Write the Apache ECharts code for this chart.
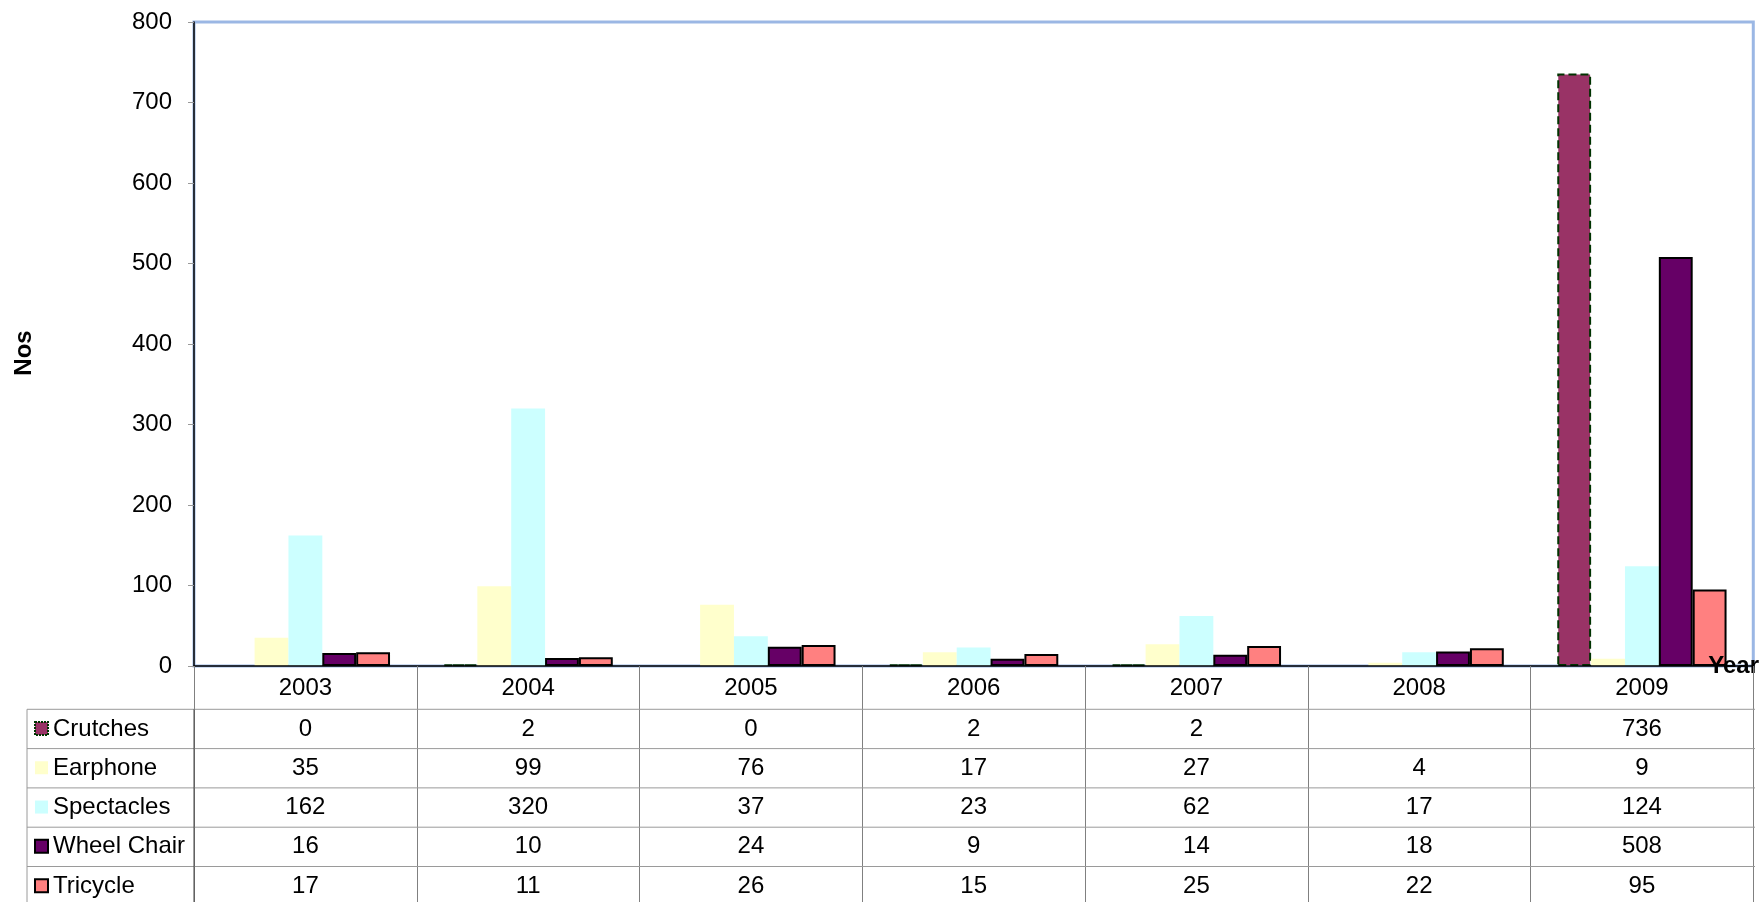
<!DOCTYPE html>
<html>
<head>
<meta charset="utf-8">
<title>Assistive devices distributed per year</title>
<script src="https://cdn.jsdelivr.net/npm/echarts@6/dist/echarts.min.js"></script>
<style>
  html, body { margin: 0; padding: 0; background: #fff; }
  #chart { width: 1762px; height: 902px; }
</style>
</head>
<body>
<div id="chart"></div>
<script>
// ---- data ----
const categories = ['2003', '2004', '2005', '2006', '2007', '2008', '2009'];
const seriesNames = ['Crutches', 'Earphone', 'Spectacles', 'Wheel Chair', 'Tricycle'];
const crutches   = [0, 2, 0, 2, 2, null, 736];
const earphone   = [35, 99, 76, 17, 27, 4, 9];
const spectacles = [162, 320, 37, 23, 62, 17, 124];
const wheelChair = [16, 10, 24, 9, 14, 18, 508];
const tricycle   = [17, 11, 26, 15, 25, 22, 95];
const seriesValues = [crutches, earphone, spectacles, wheelChair, tricycle];

// ---- styling ----
const FONT = "'Liberation Sans', Arial, sans-serif";
const fills   = ['#993366', '#FFFFCC', '#CCFFFF', '#660066', '#FF8080'];
const borders = [
  { borderColor: '#003300', borderWidth: 2, borderType: 'dashed' },
  { borderWidth: 0 },
  { borderWidth: 0 },
  { borderColor: '#000000', borderWidth: 2 },
  { borderColor: '#000000', borderWidth: 2 }
];

// ---- layout ----
const W = 1762, H = 902;
const PLOT_LEFT = 194, PLOT_TOP = 22, PLOT_RIGHT = 1755, AXIS_Y = 666;
const TABLE_LEFT = 27, ROW_H = 39.3, FIRST_ROW_TOP = 709.3;
const rowTop = i => FIRST_ROW_TOP + i * ROW_H;
const rowMid = i => rowTop(i) + ROW_H / 2;

const chart = echarts.init(document.getElementById('chart'), null, { renderer: 'canvas' });

// value rows of the data table, one category axis per series
const tableAxes = seriesValues.map((vals, i) => ({
  type: 'category',
  gridIndex: 0,
  position: 'bottom',
  offset: rowMid(i) - AXIS_Y,
  data: categories,
  axisLine: { show: false },
  axisTick: { show: false },
  splitLine: { show: false },
  axisLabel: {
    interval: 0,
    margin: 0,
    verticalAlign: 'middle',
    fontFamily: FONT,
    fontSize: 24,
    color: '#000',
    formatter: (v, idx) => (vals[idx] == null ? '' : String(vals[idx]))
  }
}));

// row headers with legend keys, plus the table rules
const graphics = [];
seriesNames.forEach((name, i) => {
  graphics.push({
    type: 'rect',
    shape: { x: 35, y: rowMid(i) - 7, width: 13, height: 13 },
    style: {
      fill: fills[i],
      stroke: borders[i].borderWidth ? borders[i].borderColor : null,
      lineWidth: borders[i].borderWidth ? 2 : 0,
      lineDash: borders[i].borderType === 'dashed' ? [2, 1] : null
    },
    z: 10
  });
  graphics.push({
    type: 'text',
    x: 53,
    y: rowMid(i),
    style: { text: name, font: '24px ' + FONT, fill: '#000', textVerticalAlign: 'middle' },
    z: 10
  });
  graphics.push({
    type: 'line',
    shape: { x1: TABLE_LEFT, y1: rowTop(i), x2: PLOT_RIGHT, y2: rowTop(i) },
    style: { stroke: '#9a9a9a', lineWidth: 1 },
    z: 5
  });
});
graphics.push({
  type: 'line',
  shape: { x1: TABLE_LEFT, y1: FIRST_ROW_TOP, x2: TABLE_LEFT, y2: H },
  style: { stroke: '#9a9a9a', lineWidth: 1 },
  z: 5
});
graphics.push({
  type: 'line',
  shape: { x1: PLOT_LEFT, y1: FIRST_ROW_TOP, x2: PLOT_LEFT, y2: H },
  style: { stroke: '#444', lineWidth: 1 },
  z: 6
});

const option = {
  backgroundColor: '#fff',
  animation: false,
  textStyle: { fontFamily: FONT },
  grid: {
    left: PLOT_LEFT,
    top: PLOT_TOP,
    right: W - PLOT_RIGHT,
    bottom: H - AXIS_Y,
    show: true,
    borderColor: '#9bb7e4',
    borderWidth: 3,
    containLabel: false
  },
  xAxis: [{
    type: 'category',
    data: categories,
    gridIndex: 0,
    position: 'bottom',
    name: 'Year',
    nameLocation: 'end',
    nameGap: -45,
    nameTextStyle: { fontFamily: FONT, fontSize: 24, fontWeight: 'bold', color: '#000', verticalAlign: 'middle' },
    axisLine: { show: true, lineStyle: { color: '#000', width: 1.5 } },
    axisTick: { show: true, length: 245, lineStyle: { color: '#808080', width: 1 } },
    splitLine: { show: false },
    axisLabel: {
      interval: 0,
      margin: 22,
      verticalAlign: 'middle',
      fontFamily: FONT,
      fontSize: 24,
      color: '#000'
    },
    z: 3
  }].concat(tableAxes),
  yAxis: {
    type: 'value',
    min: 0,
    max: 800,
    interval: 100,
    name: 'Nos',
    nameLocation: 'middle',
    nameRotate: 90,
    nameGap: 158,
    nameTextStyle: {
      fontFamily: FONT, fontSize: 24, fontWeight: 'bold', color: '#000',
      padding: [0, 18, 0, 0]
    },
    axisLine: { show: true, lineStyle: { color: '#000', width: 1.5 } },
    axisTick: { show: true, length: 6, lineStyle: { color: '#999' } },
    splitLine: { show: false },
    axisLabel: { margin: 22, fontFamily: FONT, fontSize: 24, color: '#000' },
    z: 3
  },
  series: seriesNames.map((name, i) => ({
    name: name,
    type: 'bar',
    xAxisIndex: 0,
    barGap: '0%',
    barCategoryGap: '24%',
    itemStyle: Object.assign({ color: fills[i] }, borders[i]),
    // zero-height bars draw no outline
    data: seriesValues[i].map(v => (v === 0 ? { value: v, itemStyle: { borderWidth: 0 } } : v))
  })),
  graphic: graphics
};

chart.setOption(option);
</script>
</body>
</html>
